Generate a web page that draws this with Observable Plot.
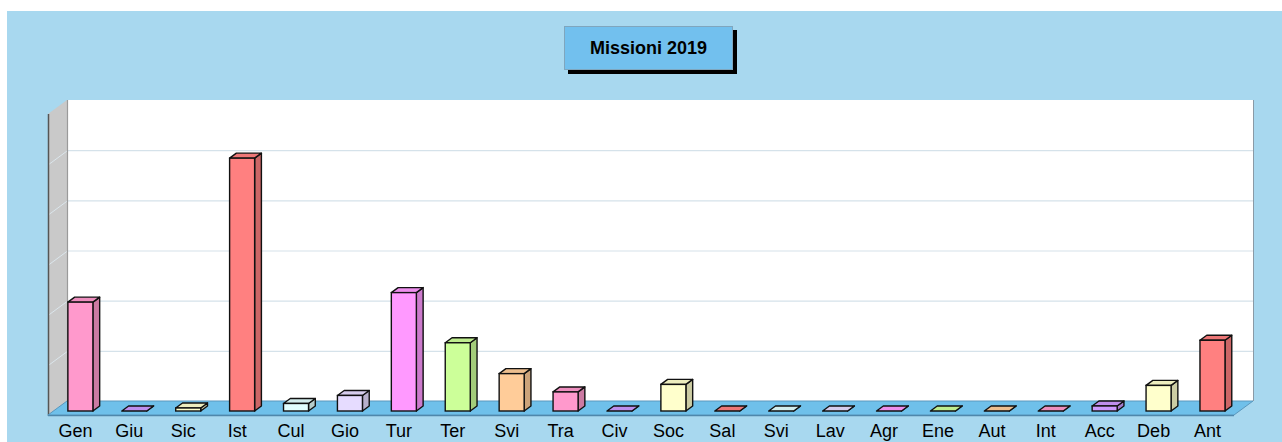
<!DOCTYPE html>
<html>
<head>
<meta charset="utf-8">
<script src="https://cdn.jsdelivr.net/npm/d3@7"></script>
<script src="https://cdn.jsdelivr.net/npm/@observablehq/plot@0.6"></script>
<style>
  html, body { margin: 0; padding: 0; background: #ffffff; }
  #page { position: relative; width: 1282px; height: 442px; overflow: hidden; }
  #bg { position: absolute; left: 7px; top: 11px; right: 0; bottom: 0; background: #a8d8ef; }
  #chart { position: absolute; left: 0; top: 0; }
  #title {
    position: absolute; left: 564px; top: 26px; width: 169px; height: 44px;
    box-sizing: border-box; background: #72c0ee; border: 1px solid #7fa6be;
    box-shadow: 4px 4px 0 #000;
    font: bold 18px "Liberation Sans", Arial, sans-serif; color: #000;
    display: flex; align-items: center; justify-content: center;
  }
</style>
</head>
<body>
<div id="page">
  <div id="bg"></div>
  <div id="chart"></div>
  <div id="title">Missioni 2019</div>
</div>
<script>
// ---- data ----
const labels = ["Gen","Giu","Sic","Ist","Cul","Gio","Tur","Ter","Svi","Tra","Civ","Soc","Sal","Svi","Lav","Agr","Ene","Aut","Int","Acc","Deb","Ant"];
const values = [21.7, 0, 0.6, 50.4, 1.5, 3.1, 23.6, 13.6, 7.45, 3.8, 0, 5.3, 0, 0, 0, 0, 0, 0, 0, 1.0, 5.1, 14.1];
const palette = ["#ff99cc","#cc99ff","#ffffcc","#ff8080","#e2ffff","#e6dcff","#ff99ff","#ccff99","#ffcc99"];
const gridValues = [10, 20, 30, 40, 50];
const yMax = 60;

// ---- layout ----
const W = 1282, H = 442, ml = 48, mr = 48, mt = 100, mb = 41;
const n = labels.length;
const ux = (W - ml - mr) / n;          // px per x unit
const uy = (H - mt - mb) / yMax;       // px per y unit
const DX = 19, DY = 14;                // depth of floor in px
const dF = 0.286, dB = 0.643, inset = 0.268;

// map (u, v, depth) to data coords (x scale = front edge, y scale = back wall)
const P = (u, v, d) => [u + DX * d / ux, v - DY * (1 - d) / uy];

function shade(c, k) {
  const col = d3.rgb(c);
  return d3.rgb(col.r * k, col.g * k, col.b * k).formatHex();
}

const bars = values.map((v, i) => {
  const c = palette[i % palette.length];
  return {i, v, front: c, side: shade(c, 0.8), top: shade(c, 0.93)};
});

const fronts = bars.map(b => {
  const [x1, y1] = P(b.i + inset, 0, dF);
  const [x2, y2] = P(b.i + 1 - inset, b.v, dF);
  return {x1, x2, y1, y2, fill: b.front};
});

const sides = bars.flatMap(b => {
  const a = P(b.i + 1 - inset, 0, dF), at = P(b.i + 1 - inset, b.v, dF);
  const c = P(b.i + 1 - inset, 0, dB), ct = P(b.i + 1 - inset, b.v, dB);
  return [
    {z: b.i, x: a[0], y1: a[1], y2: at[1], fill: b.side},
    {z: b.i, x: c[0], y1: c[1], y2: ct[1], fill: b.side}
  ];
});

const tops = bars.flatMap(b => {
  const l = P(b.i + inset, b.v, dF), r = P(b.i + 1 - inset, b.v, dF);
  const lb = P(b.i + inset, b.v, dB), rb = P(b.i + 1 - inset, b.v, dB);
  return [
    {z: b.i, y: l[1], x1: l[0], x2: r[0], fill: b.top},
    {z: b.i, y: lb[1], x1: lb[0], x2: rb[0], fill: b.top}
  ];
});

// walls and floor
const backWall = [{x1: P(0,0,1)[0], x2: P(n,0,1)[0], y1: 0, y2: yMax}];
const leftWall = [
  {x: P(0,0,0)[0], y1: P(0,0,0)[1], y2: P(0,yMax,0)[1]},
  {x: P(0,0,1)[0], y1: P(0,0,1)[1], y2: P(0,yMax,1)[1]}
];
const floor = [
  {y: P(0,0,0)[1], x1: P(0,0,0)[0], x2: P(n,0,0)[0]},
  {y: P(0,0,1)[1], x1: P(0,0,1)[0], x2: P(n,0,1)[0]}
];
const backGrid = gridValues.map(g => ({x1: P(0,g,1)[0], x2: P(n,g,1)[0], y: g}));
const sideGrid = gridValues.map(g => ({x1: P(0,g,0)[0], y1: P(0,g,0)[1], x2: P(0,g,1)[0], y2: P(0,g,1)[1]}));

const chart = Plot.plot({
  width: W, height: H,
  marginLeft: ml, marginRight: mr, marginTop: mt, marginBottom: mb,
  style: {background: "transparent", fontFamily: "'Liberation Sans', Arial, sans-serif", fontSize: "18px", overflow: "visible"},
  x: {domain: [0, n], axis: null},
  y: {domain: [0, yMax], axis: null},
  color: {type: "identity"},
  marks: [
    Plot.rect(backWall, {x1: "x1", x2: "x2", y1: "y1", y2: "y2", fill: "#ffffff"}),
    Plot.areaY(leftWall, {x: "x", y1: "y1", y2: "y2", fill: "#c9c9c9"}),
    Plot.link(sideGrid, {x1: "x1", y1: "y1", x2: "x2", y2: "y2", stroke: "#dbe6ec", strokeWidth: 1}),
    Plot.ruleY(backGrid, {y: "y", x1: "x1", x2: "x2", stroke: "#d5e2ea", strokeWidth: 1.2}),
    // wall edges
    Plot.ruleX([0], {x: () => P(0,0,0)[0], y1: P(0,0,0)[1], y2: P(0,yMax,0)[1], stroke: "#555", strokeWidth: 1.5}),
    Plot.ruleX([0], {x: () => P(0,0,1)[0], y1: 0, y2: yMax, stroke: "#9a9a9a", strokeWidth: 1.2}),
    Plot.ruleX([0], {x: () => P(n,0,1)[0], y1: 0, y2: yMax, stroke: "#8a9aa6", strokeWidth: 1}),
    Plot.areaX(floor, {y: "y", x1: "x1", x2: "x2", fill: "#6fc0ea", stroke: "#5a97bd", strokeWidth: 1}),
    Plot.ruleY([0], {y: () => P(0,0,0)[1], x1: P(0,0,0)[0], x2: P(n,0,0)[0], stroke: "#4f87ab", strokeWidth: 1.5}),
    // bars
    Plot.areaY(sides, {x: "x", y1: "y1", y2: "y2", z: "z", fill: "fill", stroke: "#111", strokeWidth: 1.4, strokeLinejoin: "round"}),
    Plot.areaX(tops, {y: "y", x1: "x1", x2: "x2", z: "z", fill: "fill", stroke: "#111", strokeWidth: 1.4, strokeLinejoin: "round"}),
    Plot.rect(fronts, {x1: "x1", x2: "x2", y1: "y1", y2: "y2", fill: "fill", stroke: "#111", strokeWidth: 1.4}),
    Plot.axisX({
      ticks: labels.map((_, i) => i + 0.5),
      tickFormat: d => labels[Math.round(d - 0.5)],
      tickSize: 0, tickPadding: 23, fontSize: 18, fill: "#000"
    })
  ]
});
document.getElementById("chart").appendChild(chart);
</script>
</body>
</html>
